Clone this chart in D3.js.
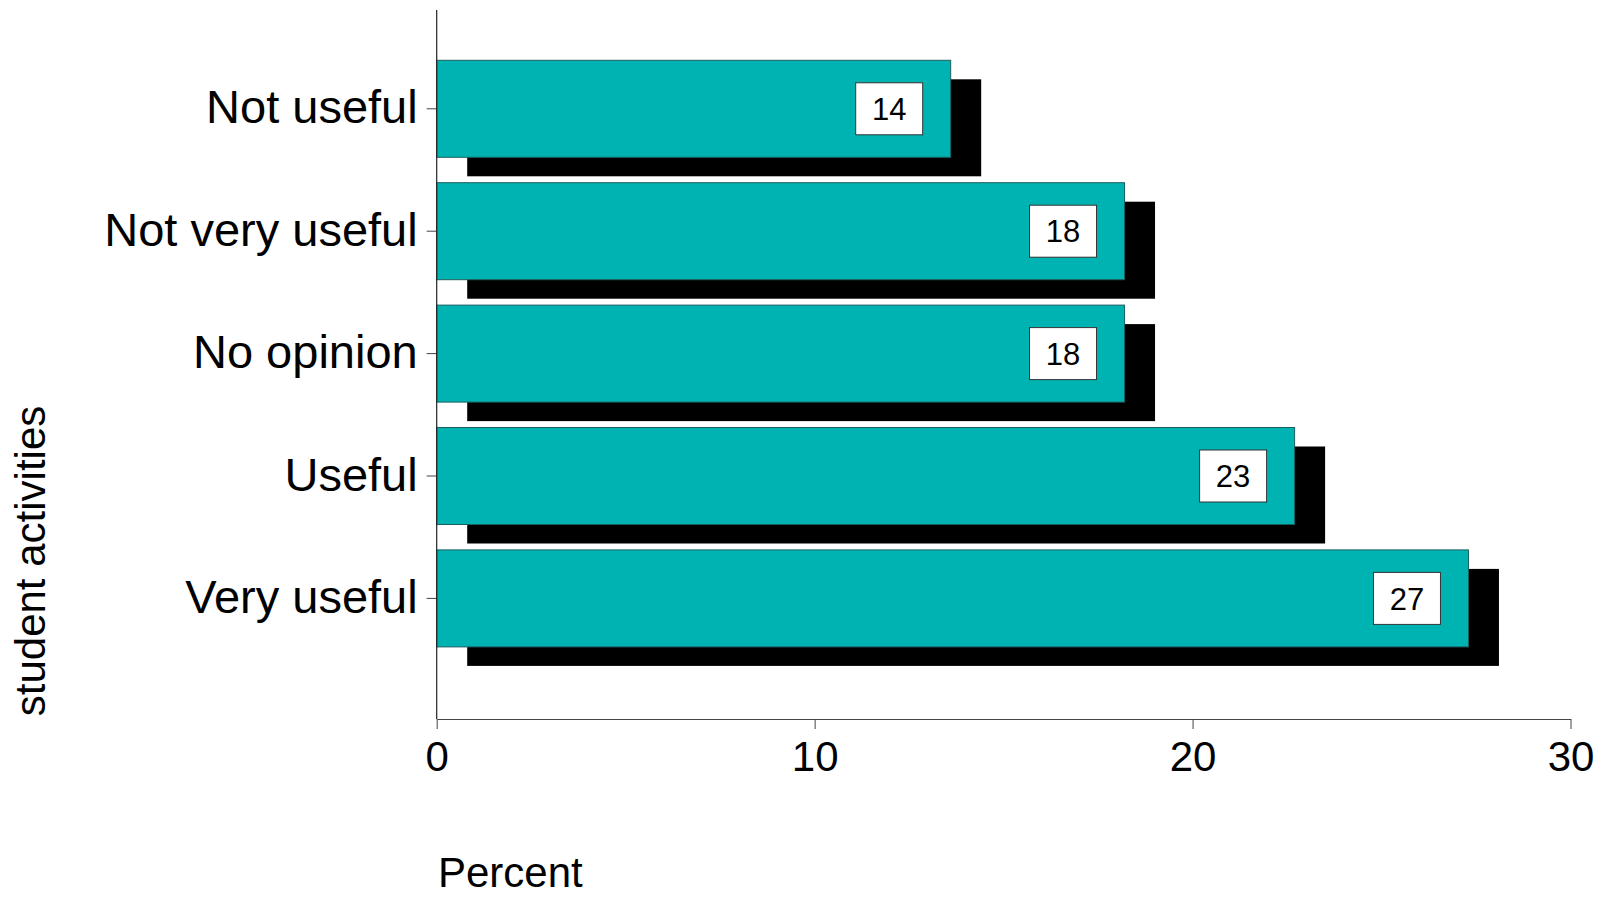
<!DOCTYPE html>
<html>
<head>
<meta charset="utf-8">
<script src="https://cdn.jsdelivr.net/npm/d3@7"></script>
<style>
  html, body { margin: 0; padding: 0; background: #ffffff; }
  svg { display: block; font-family: "Liberation Sans", Arial, sans-serif; }
</style>
</head>
<body>
<svg id="chart" width="1603" height="897"></svg>
<script>
// ---- data ----
const categories = ["Not useful", "Not very useful", "No opinion", "Useful", "Very useful"];
const percentValues = [13.6, 18.2, 18.2, 22.7, 27.3];
const valueLabels = ["14", "18", "18", "23", "27"];
const xTickValues = [0, 10, 20, 30];
const xAxisTitle = "Percent";
const yAxisTitle = "student activities";

// ---- layout ----
const FONT = "'Liberation Sans', Arial, sans-serif";
const svg = d3.select("#chart");
const x0 = 436.7, x1 = 1570.5;
const axisY = 719, axisTop = 10;
const teal = "#00B3B3";

const x = d3.scaleLinear().domain([0, 30]).range([x0, x1]);
const y = d3.scaleBand().domain(categories)
  .range([47.6, 659.6]).paddingInner(0.2075).paddingOuter(0.10375);

const shadowDx = 30.5, shadowDy = 19;

// shadows
svg.append("g").selectAll("rect")
  .data(categories)
  .join("rect")
  .attr("x", x(0) + shadowDx)
  .attr("y", d => y(d) + shadowDy)
  .attr("width", (d, i) => x(percentValues[i]) - x(0))
  .attr("height", y.bandwidth())
  .attr("fill", "#000");

// bars
svg.append("g").selectAll("rect")
  .data(categories)
  .join("rect")
  .attr("x", x(0))
  .attr("y", d => y(d))
  .attr("width", (d, i) => x(percentValues[i]) - x(0))
  .attr("height", y.bandwidth())
  .attr("fill", teal)
  .attr("stroke", "#1d5f5f")
  .attr("stroke-width", 1);

// value label boxes
const boxW = 67, boxH = 52, boxGap = 28;
const lab = svg.append("g").selectAll("g")
  .data(categories)
  .join("g")
  .attr("transform", (d, i) => {
    const cx = x(percentValues[i]) - boxGap - boxW / 2;
    const cy = y(d) + y.bandwidth() / 2;
    return `translate(${cx},${cy})`;
  });
lab.append("rect")
  .attr("x", -boxW / 2).attr("y", -boxH / 2)
  .attr("width", boxW).attr("height", boxH)
  .attr("fill", "#fff").attr("stroke", "#333").attr("stroke-width", 1);
lab.append("text")
  .attr("text-anchor", "middle")
  .attr("dy", "0.36em")
  .attr("font-size", 31)
  .attr("font-family", FONT)
  .attr("fill", "#000")
  .text((d, i) => valueLabels[i]);

// y axis
const yAxis = svg.append("g")
  .attr("transform", `translate(${x0},0)`)
  .call(d3.axisLeft(y).tickSize(10).tickPadding(9));
yAxis.select(".domain").remove();
yAxis.selectAll(".tick line").attr("stroke", "#444");
yAxis.selectAll(".tick text")
  .attr("font-size", 47)
  .attr("font-family", FONT)
  .attr("fill", "#000")
  .attr("dy", "0.31em");
svg.append("line")
  .attr("x1", x0).attr("x2", x0)
  .attr("y1", axisTop).attr("y2", axisY)
  .attr("stroke", "#222").attr("stroke-width", 1.2);

// x axis
const xAxis = svg.append("g")
  .attr("transform", `translate(0,${axisY})`)
  .call(d3.axisBottom(x).tickValues(xTickValues).tickSize(10).tickSizeOuter(0).tickPadding(0));
xAxis.select(".domain").attr("stroke", "#444");
xAxis.selectAll(".tick line").attr("stroke", "#444");
xAxis.selectAll(".tick text")
  .attr("font-size", 42)
  .attr("font-family", FONT)
  .attr("fill", "#000")
  .attr("y", 51.7)
  .attr("dy", 0);

// axis titles
svg.append("text")
  .attr("x", 438).attr("y", 887)
  .attr("font-size", 42)
  .attr("font-family", FONT)
  .attr("fill", "#000")
  .text(xAxisTitle);

svg.append("text")
  .attr("transform", "translate(45,561) rotate(-90)")
  .attr("text-anchor", "middle")
  .attr("font-size", 42)
  .attr("font-family", FONT)
  .attr("fill", "#000")
  .text(yAxisTitle);
</script>
</body>
</html>
